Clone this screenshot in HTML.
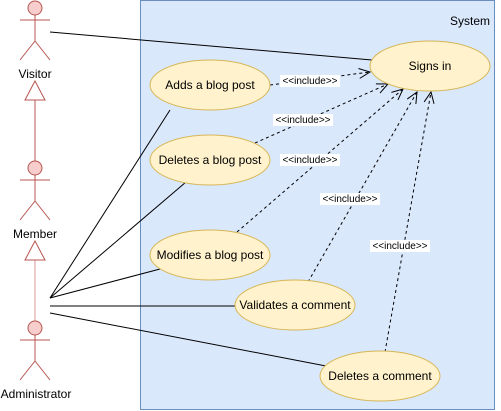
<!DOCTYPE html>
<html><head><style>body{margin:0;background:#fff}svg{display:block}text{font-family:"Liberation Sans",Arial,sans-serif}</style></head><body>
<svg width="501" height="411" viewBox="0 0 501 411" xmlns="http://www.w3.org/2000/svg">
<defs><marker id="oa" markerWidth="14" markerHeight="12" refX="12" refY="6" orient="auto" markerUnits="userSpaceOnUse"><path d="M1,1 L12,6 L1,11" fill="none" stroke="#000" stroke-width="1"/></marker></defs>
<rect x="140.5" y="0.5" width="354" height="409" fill="#dae8fc" stroke="#6c8ebf"/>
<text x="490" y="25" font-size="12" text-anchor="end" fill="#000">System</text>
<g stroke="#000" stroke-width="1" fill="none">
<line x1="50" y1="32" x2="372" y2="60"/>
<line x1="50" y1="298" x2="170" y2="110"/>
<line x1="50" y1="298" x2="186" y2="182"/>
<line x1="50" y1="298" x2="160" y2="269"/>
<line x1="50" y1="306" x2="235" y2="306"/>
<line x1="50" y1="313" x2="326" y2="366"/>
<g stroke-dasharray="3,3" marker-end="url(#oa)">
<line x1="270" y1="85" x2="370" y2="72"/>
<line x1="255" y1="143" x2="388" y2="84"/>
<line x1="237" y1="232" x2="403" y2="89"/>
<line x1="308" y1="282" x2="417" y2="92"/>
<line x1="385" y1="352" x2="431" y2="92"/>
</g></g>
<g fill="#fff2cc" stroke="#d6b656">
<ellipse cx="430" cy="66" rx="60" ry="25"/>
<ellipse cx="210" cy="85" rx="60" ry="25"/>
<ellipse cx="210" cy="160" rx="60" ry="25"/>
<ellipse cx="210" cy="255" rx="60" ry="25"/>
<ellipse cx="295" cy="305" rx="60" ry="25"/>
<ellipse cx="380" cy="376" rx="60" ry="25"/>
</g>
<g font-size="12" text-anchor="middle" fill="#000">
<text x="430" y="70">Signs in</text>
<text x="210" y="89">Adds a blog post</text>
<text x="210" y="164">Deletes a blog post</text>
<text x="210" y="259">Modifies a blog post</text>
<text x="295" y="309">Validates a comment</text>
<text x="380" y="380">Deletes a comment</text>
</g>
<g font-size="10" text-anchor="middle">
<rect x="280" y="75" width="60" height="12" fill="#fff"/><text x="310" y="84">&lt;&lt;include&gt;&gt;</text>
<rect x="273" y="114" width="60" height="12" fill="#fff"/><text x="303" y="123">&lt;&lt;include&gt;&gt;</text>
<rect x="280" y="154" width="60" height="12" fill="#fff"/><text x="310" y="163">&lt;&lt;include&gt;&gt;</text>
<rect x="320" y="193" width="60" height="12" fill="#fff"/><text x="350" y="202">&lt;&lt;include&gt;&gt;</text>
<rect x="370" y="240" width="60" height="12" fill="#fff"/><text x="400" y="249">&lt;&lt;include&gt;&gt;</text>
</g>
<g stroke="#b85450" fill="none">
<line x1="35" y1="100" x2="35" y2="161"/>
<path d="M35,81 L45,100 L25,100 Z" fill="#fff"/>
<line x1="35" y1="260" x2="35" y2="321" stroke="#d99a98"/>
<path d="M35,241 L45,260 L25,260 Z" fill="#fff"/>
</g>
<g stroke="#b85450" fill="#f8cecc">
<g transform="translate(0,0)"><circle cx="35" cy="8" r="7"/><path d="M35,15 V41 M20,20 H50 M20,60 L35,41 L50,60" fill="none"/></g>
<g transform="translate(0,160)"><circle cx="35" cy="8" r="7"/><path d="M35,15 V41 M20,20 H50 M20,60 L35,41 L50,60" fill="none"/></g>
<g transform="translate(0,320)"><circle cx="35" cy="8" r="7"/><path d="M35,15 V41 M20,20 H50 M20,60 L35,41 L50,60" fill="none"/></g>
</g>
<g font-size="12" text-anchor="middle" fill="#000">
<text x="35" y="78">Visitor</text>
<text x="35" y="238">Member</text>
<text x="36" y="398">Administrator</text>
</g>
</svg>
</body></html>
